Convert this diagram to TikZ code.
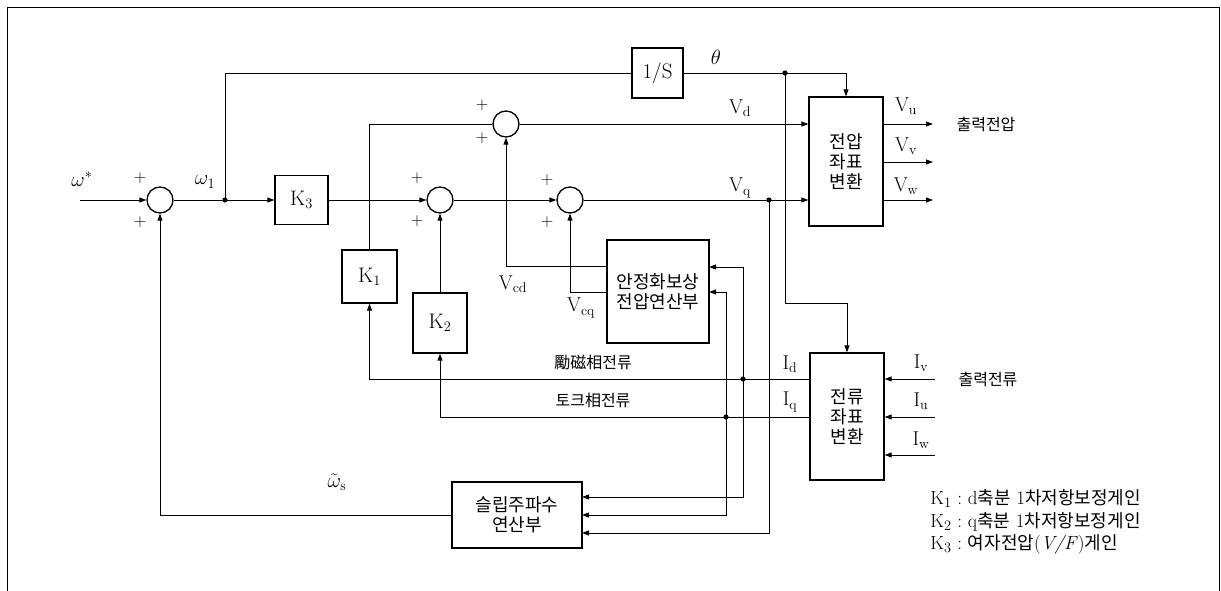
\documentclass[tikz,border=0pt]{standalone}
\usepackage{fontspec}
\newfontfamily\kr{Noto Sans CJK KR}
\usetikzlibrary{arrows.meta}
\newcommand{\lk}[1]{{\kr\fontsize{18}{22.5}\selectfont #1}}
\begin{document}
\begin{tikzpicture}[x=1pt,y=-1pt,
  line width=0.9pt,
  arr/.style={-{Triangle[length=7pt,width=5pt]}},
  blk/.style={draw,line width=1.3pt,inner sep=0},
  kfont/.style={font=\fontsize{21}{21}\selectfont},
  sumj/.style={draw,circle,line width=1.3pt,minimum size=26pt,inner sep=0},
  lab/.style={font=\fontsize{20}{22}\selectfont,inner sep=0},
  krl/.style={font=\kr\fontsize{16}{19}\selectfont,inner sep=0},
  krb/.style={font=\kr\fontsize{18}{20}\selectfont,align=center},
  pl/.style={font=\fontsize{17}{17}\selectfont,inner sep=0}]
\useasboundingbox (0,0) rectangle (1221,591);
% frame
\coordinate (f1) at (7,591); \coordinate (f2) at (7,8);
\coordinate (f3) at (1219,8); \coordinate (f4) at (1219,591);
\draw[line width=1pt] (f1) -- (f2) -- (f3) -- (f4);
% blocks
\node[sumj] (s1) at (160,200) {};
\node[blk,minimum width=53pt,minimum height=49pt,kfont] (k3) at (301.5,200) {$\mathrm{K}_3$};
\node[blk,minimum width=51pt,minimum height=50pt,kfont] (inv) at (657.5,73) {1/S};
\node[sumj] (sd) at (506,124) {};
\node[sumj] (sm) at (440,200) {};
\node[sumj] (sq) at (570,200) {};
\node[blk,minimum width=55pt,minimum height=53pt,kfont] (k1) at (369.5,276.5) {$\mathrm{K}_1$};
\node[blk,minimum width=54pt,minimum height=60pt,kfont] (k2) at (440,323) {$\mathrm{K}_2$};
\node[blk,minimum width=74pt,minimum height=129pt,krb] (vt) at (846,161.5) {전압\\좌표\\변환};
\node[blk,minimum width=102pt,minimum height=103pt,krb] (stab) at (658,291.5) {안정화보상\\전압연산부};
\node[blk,minimum width=74pt,minimum height=127pt,krb] (ct) at (847,416.5) {전류\\좌표\\변환};
\node[blk,minimum width=130pt,minimum height=66pt,krb] (slip) at (517,515) {슬립주파수\\연산부};
% coordinates
\coordinate (win) at (80,200);
\coordinate (j1) at (225,200);
\coordinate (thd) at (785,73);
\coordinate (tb) at (785,303);
\coordinate (vqd) at (769,200);
\coordinate (idd) at (743,379);
\coordinate (iqd) at (726,417);
\coordinate (vcdS) at (607,266);
\coordinate (vcqS) at (607,292);
\coordinate (stIn1) at (709,267);
\coordinate (stIn2) at (709,292);
\coordinate (slIn1) at (582,497);
\coordinate (slIn2) at (582,515);
\coordinate (slIn3) at (582,533);
\coordinate (vuE) at (933,124);
\coordinate (vvE) at (933,162);
\coordinate (vwE) at (933,200);
\coordinate (ivS) at (935,379);
\coordinate (iuS) at (935,417);
\coordinate (iwS) at (935,455);
% connectors
\draw[arr] (win) -- (s1.west);
\draw (s1.east) -- (j1);
\draw[arr] (j1) -- (k3.west);
\draw (j1) |- (inv.west);
\draw[arr] (inv.east) -| (vt.north);
\draw[arr] (thd) -- (tb) -| (ct.north);
\draw[arr] (k3.east) -- (sm.west);
\draw[arr] (sm.east) -- (sq.west);
\draw[arr] (sq.east) -- (vt.west |- sq.east);
\draw (k1.north) |- (sd.west);
\draw[arr] (sd.east) -- (vt.west |- sd.east);
\draw[arr] (vcdS) -| (sd.south);
\draw[arr] (vcqS) -| (sq.south);
\draw[arr] (k2.north) -- (sm.south);
\draw[arr] (vt.east |- vuE) -- (vuE);
\draw[arr] (vt.east |- vvE) -- (vvE);
\draw[arr] (vt.east |- vwE) -- (vwE);
\draw[arr] (ct.west |- idd) -| (k1.south);
\draw[arr] (ct.west |- iqd) -| (k2.south);
\draw[arr] (idd) |- (stIn1);
\draw[arr] (idd) |- (slIn1);
\draw[arr] (iqd) |- (stIn2);
\draw[arr] (iqd) |- (slIn2);
\draw[arr] (vqd) |- (slIn3);
\draw[arr] (slip.west) -| (s1.south);
\draw[arr] (ivS) -- (ct.east |- ivS);
\draw[arr] (iuS) -- (ct.east |- iuS);
\draw[arr] (iwS) -- (ct.east |- iwS);
% dots
\foreach \p in {j1,thd,vqd,idd,iqd} \fill (\p) circle (2.6pt);
% plus signs
\node[pl] (p1) at (140,178) {$+$};
\node[pl] (p2) at (140,222) {$+$};
\node[pl] (p3) at (482,105) {$+$};
\node[pl] (p4) at (482,138) {$+$};
\node[pl] (p5) at (417,178) {$+$};
\node[pl] (p6) at (417,221) {$+$};
\node[pl] (p7) at (547,180) {$+$};
\node[pl] (p8) at (547,222) {$+$};
% labels
\node[lab] (lw) at (82,179) {$\omega^{*}$};
\node[lab] (lw1) at (205,182) {$\omega_1$};
\node[lab] (lth) at (716,57) {$\theta$};
\node[lab] (lvd) at (740,108) {$\mathrm{V}_{\mathrm{d}}$};
\node[lab] (lvq) at (740,188) {$\mathrm{V}_{\mathrm{q}}$};
\node[lab] (lvu) at (906,106) {$\mathrm{V}_{\mathrm{u}}$};
\node[lab] (lvv) at (906,146) {$\mathrm{V}_{\mathrm{v}}$};
\node[lab] (lvw) at (906,186) {$\mathrm{V}_{\mathrm{w}}$};
\node[krl] (lov) at (986,124) {출력전압};
\node[lab] (lvcd) at (513,284) {$\mathrm{V}_{\mathrm{cd}}$};
\node[lab] (lvcq) at (581,308) {$\mathrm{V}_{\mathrm{cq}}$};
\node[krl] (lexc) at (593,362) {勵磁相전류};
\node[krl] (ltrq) at (593,400) {토크相전류};
\node[lab] (lid) at (790,364) {$\mathrm{I}_{\mathrm{d}}$};
\node[lab] (liq) at (790,402) {$\mathrm{I}_{\mathrm{q}}$};
\node[lab] (liv) at (921,363) {$\mathrm{I}_{\mathrm{v}}$};
\node[lab] (liu) at (921,401) {$\mathrm{I}_{\mathrm{u}}$};
\node[lab] (liw) at (921,440) {$\mathrm{I}_{\mathrm{w}}$};
\node[krl] (loc) at (988,379) {출력전류};
\node[lab] (lws) at (337,482) {$\tilde{\omega}_{\mathrm{s}}$};
% legend
\node[anchor=west,inner sep=0,align=left,font=\fontsize{19}{22.5}\selectfont] (leg) at (930,522)
 {$\mathrm{K}_1$\ :\ d\lk{축분} 1\lk{차저항보정게인}\\
  $\mathrm{K}_2$\ :\ q\lk{축분} 1\lk{차저항보정게인}\\
  $\mathrm{K}_3$\ :\ \lk{여자전압}(\textit{V/F})\lk{게인}};
\end{tikzpicture}
\end{document}
